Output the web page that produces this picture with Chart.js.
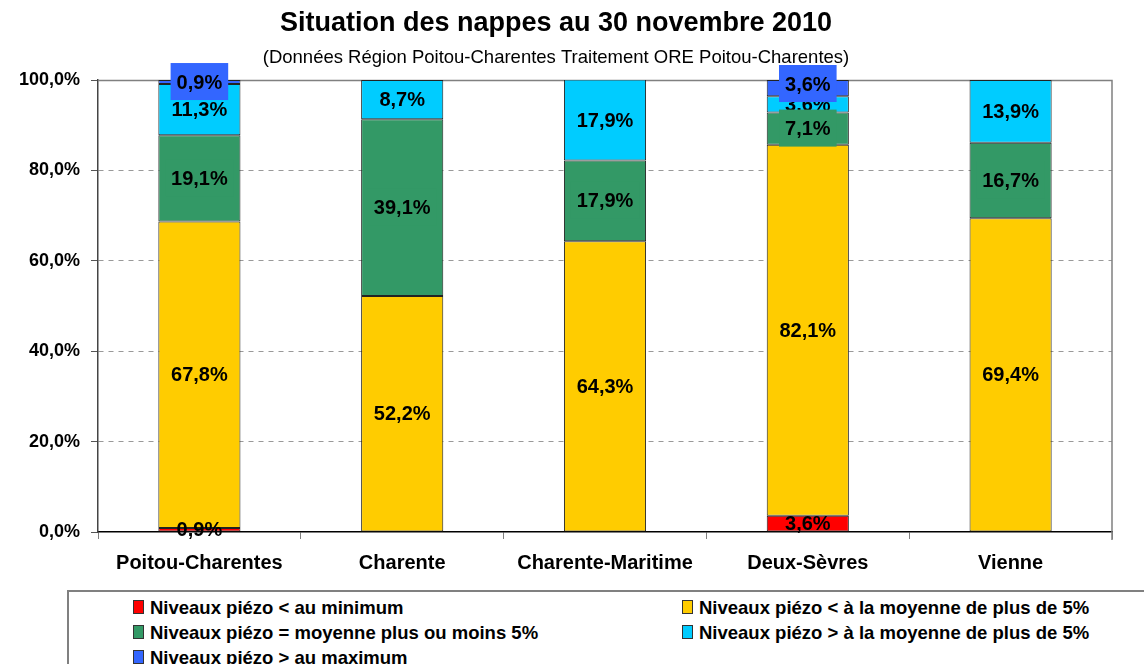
<!DOCTYPE html>
<html>
<head>
<meta charset="utf-8">
<script src="https://cdn.jsdelivr.net/npm/chart.js@4/dist/chart.umd.min.js"></script>
<style>
    body { margin: 0; background: #fff; font-family: "Liberation Sans", Arial, sans-serif; }
    #wrap { position: relative; width: 1144px; height: 664px; overflow: hidden; }
    #box { position: absolute; left: 0; top: 0; width: 1144px; height: 585px; }
    #legend {
        position: absolute; left: 67px; top: 590px; width: 1100px; height: 90px;
        border: 2px solid #808080; box-sizing: border-box;
    }
    .item { position: absolute; font-weight: bold; font-size: 18.5px; color: #000; white-space: nowrap; line-height: 20px; }
    .sq { display: inline-block; width: 9px; height: 12px; border: 1px solid #333; margin-right: 6px; vertical-align: 0px; }
</style>
</head>
<body>
<div id="wrap">
    <div id="box"><canvas id="chart"></canvas></div>
    <div id="legend"></div>
</div>
<script>
const categories = ['Poitou-Charentes', 'Charente', 'Charente-Maritime', 'Deux-Sèvres', 'Vienne'];
const auMinimum = [0.9, 0, 0, 3.6, 0];
const sousMoyenne = [67.8, 52.2, 64.3, 82.1, 69.4];
const autourMoyenne = [19.1, 39.1, 17.9, 7.1, 16.7];
const surMoyenne = [11.3, 8.7, 17.9, 3.6, 13.9];
const auMaximum = [0.9, 0, 0, 3.6, 0];
const yTicks = [0, 20, 40, 60, 80, 100];

const series = [
    { label: 'Niveaux piézo < au minimum', data: auMinimum, color: '#FF0000', boxed: false },
    { label: 'Niveaux piézo < à la moyenne de plus de 5%', data: sousMoyenne, color: '#FFCC00', boxed: false },
    { label: 'Niveaux piézo = moyenne plus ou moins 5%', data: autourMoyenne, color: '#339966', boxed: true },
    { label: 'Niveaux piézo > à la moyenne de plus de 5%', data: surMoyenne, color: '#00CCFF', boxed: false },
    { label: 'Niveaux piézo > au maximum', data: auMaximum, color: '#3366FF', boxed: true }
];

const fmt = v => v.toFixed(1).replace('.', ',') + '%';

// labels centred in each segment, the boxed ones (green, blue) drawn last so they cover the others
const labelPlugin = {
    id: 'segLabels',
    afterDatasetsDraw(chart) {
        const ctx = chart.ctx;
        ctx.save();
        ctx.font = 'bold 20px "Liberation Sans", Arial, sans-serif';
        ctx.textAlign = 'center';
        ctx.textBaseline = 'middle';
        const order = [0, 1, 3, 2, 4];
        order.forEach(di => {
            const meta = chart.getDatasetMeta(di);
            const ds = series[di];
            meta.data.forEach((bar, i) => {
                const v = ds.data[i];
                if (!v) return;
                let y = (bar.y + bar.base) / 2;
                if (di === 4) y = Math.min(y, bar.y + 4);
                const t = fmt(v);
                if (ds.boxed) {
                    const w = ctx.measureText(t).width + 12;
                    ctx.fillStyle = ds.color;
                    ctx.fillRect(bar.x - w / 2, y - 19, w, 37);
                }
                ctx.fillStyle = '#000';
                ctx.fillText(t, bar.x, y + 1);
            });
        });
        ctx.restore();
    }
};

// plot frame: grey top/right border
const framePlugin = {
    id: 'frame',
    beforeDatasetsDraw(chart) {
        const { ctx, chartArea: a } = chart;
        ctx.save();
        ctx.strokeStyle = '#808080';
        ctx.lineWidth = 1.5;
        ctx.beginPath();
        ctx.moveTo(a.left, a.top + 0.5);
        ctx.lineTo(a.right, a.top + 0.5);
        ctx.lineTo(a.right, a.bottom + 8);
        ctx.stroke();
        ctx.restore();
    }
};

function buildLegend() {
    const leg = document.getElementById('legend');
    const pos = [[64, 6], [613, 6], [64, 31], [613, 31], [64, 56]];
    series.forEach((s, k) => {
        const d = document.createElement('div');
        d.className = 'item';
        d.style.left = pos[k][0] + 'px';
        d.style.top = pos[k][1] + 'px';
        d.innerHTML = '<span class="sq" style="background:' + s.color + '"></span>' + s.label;
        leg.appendChild(d);
    });
}

function createChart() {
    const ctx = document.getElementById('chart').getContext('2d');
    new Chart(ctx, {
        type: 'bar',
        data: {
            labels: categories,
            datasets: series.map(s => ({
                label: s.label,
                data: s.data,
                backgroundColor: s.color,
                borderColor: '#222222',
                borderWidth: 1,
                borderSkipped: false,
                barPercentage: 0.405,
                categoryPercentage: 1
            }))
        },
        options: {
            responsive: true,
            maintainAspectRatio: false,
            animation: false,
            layout: { padding: { left: 0, right: 32, top: 0, bottom: 0 } },
            scales: {
                x: {
                    stacked: true,
                    grid: { offset: true, drawOnChartArea: false, color: '#808080', tickLength: 7 },
                    border: { color: '#000', width: 1.5 },
                    ticks: { color: '#000', font: { family: '"Liberation Sans", Arial', size: 20, weight: 'bold' }, padding: 12 },
                    afterFit: s => { s.height = 53; }
                },
                y: {
                    stacked: true,
                    min: 0,
                    max: 100,
                    afterBuildTicks: s => { s.ticks = yTicks.map(v => ({ value: v })); },
                    grid: {
                        color: c => (c.tick && (c.tick.value === 0 || c.tick.value === 100)) ? 'rgba(0,0,0,0)' : '#999999',
                        tickColor: '#555',
                        tickBorderDash: [],
                        tickLength: 7
                    },
                    border: { color: '#444', width: 1.5, dash: [5, 5] },
                    ticks: {
                        color: '#000',
                        font: { family: '"Liberation Sans", Arial', size: 18, weight: 'bold' },
                        padding: 11,
                        callback: v => fmt(v)
                    },
                    afterFit: s => { s.width = 98; }
                }
            },
            plugins: {
                legend: { display: false },
                tooltip: { enabled: false },
                title: {
                    display: true,
                    text: 'Situation des nappes au 30 novembre 2010',
                    color: '#000',
                    font: { family: '"Liberation Sans", Arial', size: 27, weight: 'bold' },
                    padding: { top: 7, bottom: 0 }
                },
                subtitle: {
                    display: true,
                    text: '(Données Région Poitou-Charentes Traitement ORE Poitou-Charentes)',
                    color: '#000',
                    font: { family: '"Liberation Sans", Arial', size: 18.5 },
                    padding: { top: 7, bottom: 11.4 }
                }
            }
        },
        plugins: [framePlugin, labelPlugin]
    });
}

document.addEventListener('DOMContentLoaded', () => {
    buildLegend();
    createChart();
});
</script>
</body>
</html>
